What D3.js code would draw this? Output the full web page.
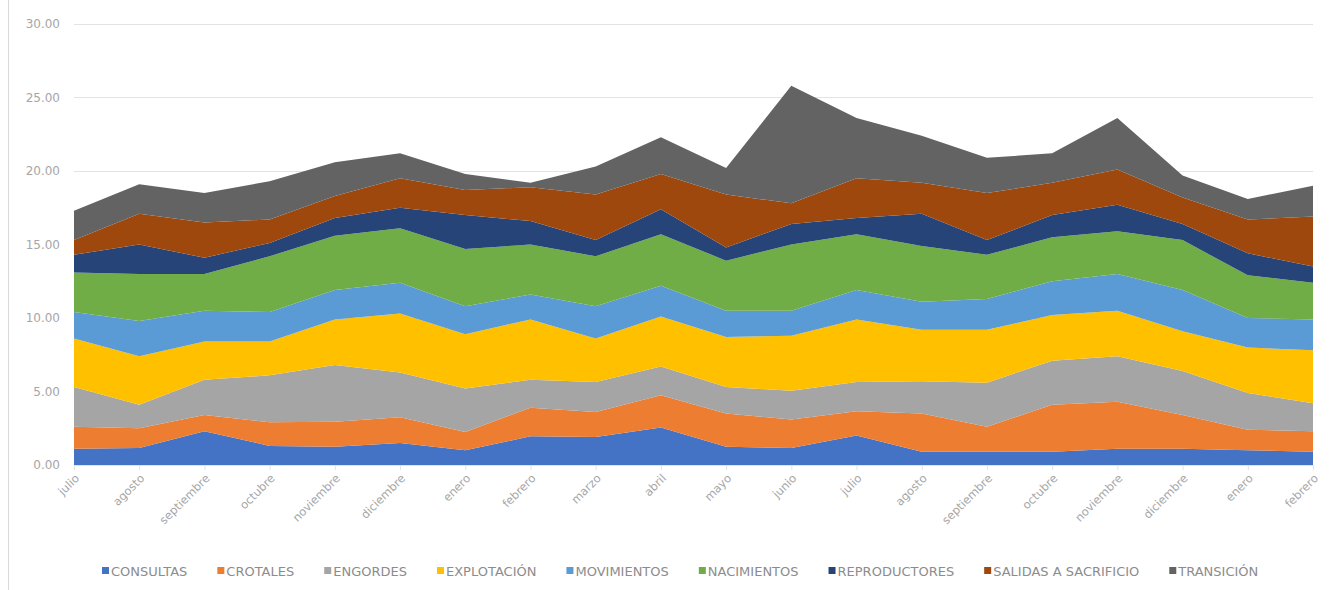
<!DOCTYPE html>
<html>
<head>
<meta charset="utf-8">
<script src="https://cdn.jsdelivr.net/npm/d3@7"></script>
<style>
  body { margin: 0; background: #fff; }
  svg text { font-family: 'DejaVu Sans', sans-serif; }
</style>
</head>
<body>
<div id="chart"></div>
<script>
// Month labels (x axis)
var months = ['julio', 'agosto', 'septiembre', 'octubre', 'noviembre', 'diciembre',
  'enero', 'febrero', 'marzo', 'abril', 'mayo', 'junio', 'julio', 'agosto',
  'septiembre', 'octubre', 'noviembre', 'diciembre', 'enero', 'febrero'];

// Series names, bottom to top
var seriesNames = ['CONSULTAS', 'CROTALES', 'ENGORDES', 'EXPLOTACIÓN', 'MOVIMIENTOS',
  'NACIMIENTOS', 'REPRODUCTORES', 'SALIDAS A SACRIFICIO', 'TRANSICIÓN'];

// Series values
var consultas     = [1.10, 1.15, 2.30, 1.30, 1.25, 1.50, 1.00, 1.95, 1.90, 2.55, 1.25, 1.15, 2.00, 0.90, 0.90, 0.90, 1.10, 1.10, 1.00, 0.90];
var crotales      = [1.50, 1.35, 1.10, 1.60, 1.70, 1.75, 1.25, 1.95, 1.70, 2.20, 2.25, 1.95, 1.65, 2.60, 1.70, 3.20, 3.20, 2.30, 1.40, 1.40];
var engordes      = [2.70, 1.60, 2.40, 3.20, 3.85, 3.05, 2.95, 1.90, 2.05, 1.95, 1.80, 1.95, 2.00, 2.20, 3.00, 3.00, 3.10, 3.00, 2.50, 1.90];
var explotacion   = [3.30, 3.30, 2.60, 2.30, 3.10, 4.00, 3.70, 4.10, 2.95, 3.40, 3.40, 3.75, 4.25, 3.50, 3.60, 3.10, 3.10, 2.70, 3.10, 3.60];
var movimientos   = [1.80, 2.40, 2.10, 2.00, 2.00, 2.10, 1.90, 1.70, 2.20, 2.10, 1.80, 1.70, 2.00, 1.90, 2.10, 2.30, 2.50, 2.80, 2.00, 2.10];
var nacimientos   = [2.70, 3.20, 2.50, 3.80, 3.70, 3.70, 3.90, 3.40, 3.40, 3.50, 3.40, 4.50, 3.80, 3.80, 3.00, 3.00, 2.90, 3.40, 2.90, 2.50];
var reproductores = [1.20, 2.00, 1.10, 0.90, 1.20, 1.40, 2.30, 1.60, 1.10, 1.70, 0.90, 1.40, 1.10, 2.20, 1.00, 1.50, 1.80, 1.10, 1.50, 1.10];
var salidas       = [1.00, 2.10, 2.40, 1.60, 1.50, 2.00, 1.70, 2.30, 3.10, 2.40, 3.60, 1.40, 2.70, 2.10, 3.20, 2.20, 2.40, 1.80, 2.30, 3.40];
var transicion    = [2.00, 2.00, 2.00, 2.60, 2.30, 1.70, 1.10, 0.30, 1.90, 2.50, 1.80, 8.00, 4.10, 3.20, 2.40, 2.00, 3.50, 1.50, 1.40, 2.10];

// Y axis ticks
var yTicks = [0, 5, 10, 15, 20, 25, 30];

// Colour constants (Office palette)
var COLORS = ['#4472C4', '#ED7D31', '#A5A5A5', '#FFC000', '#5B9BD5',
  '#70AD47', '#264478', '#9E480E', '#636363'];

var seriesValues = [consultas, crotales, engordes, explotacion, movimientos,
  nacimientos, reproductores, salidas, transicion];

var WIDTH = 1334,
    HEIGHT = 590,
    PLOT_LEFT = 74,
    PLOT_RIGHT = 1313,
    PLOT_TOP = 24,
    PLOT_BOTTOM = 465;

// Build rows for d3.stack
var rows = months.map(function(m, i) {
  var row = { idx: i };
  seriesNames.forEach(function(name, s) { row[name] = seriesValues[s][i]; });
  return row;
});

var stacked = d3.stack().keys(seriesNames)(rows);

var x = d3.scalePoint()
  .domain(d3.range(months.length))
  .range([PLOT_LEFT, PLOT_RIGHT]);

var y = d3.scaleLinear()
  .domain([0, 30])
  .range([PLOT_BOTTOM, PLOT_TOP]);

var svg = d3.select('#chart')
  .append('svg')
  .attr('width', WIDTH)
  .attr('height', HEIGHT);

// Chart frame line on the left
svg.append('line')
  .attr('x1', 8.5).attr('x2', 8.5)
  .attr('y1', 0).attr('y2', HEIGHT)
  .attr('stroke', '#d9d9d9');

// Gridlines
svg.append('g')
  .selectAll('line')
  .data(yTicks)
  .join('line')
  .attr('x1', PLOT_LEFT).attr('x2', PLOT_RIGHT)
  .attr('y1', function(d) { return Math.round(y(d)) + 0.5; })
  .attr('y2', function(d) { return Math.round(y(d)) + 0.5; })
  .attr('stroke', '#e3e3e3');

// Areas
var area = d3.area()
  .x(function(d) { return x(d.data.idx); })
  .y0(function(d) { return y(d[0]); })
  .y1(function(d) { return y(d[1]); });

svg.append('g')
  .selectAll('path')
  .data(stacked)
  .join('path')
  .attr('fill', function(d, i) { return COLORS[i]; })
  .attr('d', area);

// Y axis labels
svg.append('g')
  .selectAll('text')
  .data(yTicks)
  .join('text')
  .attr('x', 60)
  .attr('y', function(d) { return y(d); })
  .attr('dy', '0.35em')
  .attr('text-anchor', 'end')
  .attr('font-size', '12px')
  .attr('fill', '#a6a6a6')
  .text(function(d) { return d.toFixed(2); });

// X axis ticks and labels
var xAxis = svg.append('g');
xAxis.selectAll('line')
  .data(d3.range(months.length))
  .join('line')
  .attr('x1', function(d) { return x(d) + 0.5; })
  .attr('x2', function(d) { return x(d) + 0.5; })
  .attr('y1', PLOT_BOTTOM)
  .attr('y2', PLOT_BOTTOM + 5)
  .attr('stroke', '#e3e3e3');

xAxis.selectAll('text')
  .data(months)
  .join('text')
  .attr('transform', function(d, i) {
    return 'translate(' + (x(i) + 6) + ',' + (PLOT_BOTTOM + 14) + ') rotate(-45)';
  })
  .attr('text-anchor', 'end')
  .attr('font-size', '11.5px')
  .attr('fill', '#a6a6a6')
  .text(function(d) { return d; });

// Legend
var legend = svg.append('g').attr('transform', 'translate(0,571)');
var LEGEND_START = 102, LEGEND_GAP = 30;
var items = legend.selectAll('g')
  .data(seriesNames)
  .join('g');

items.append('rect')
  .attr('width', 7).attr('height', 7)
  .attr('y', -4)
  .attr('fill', function(d, i) { return COLORS[i]; });

items.append('text')
  .attr('x', 9)
  .attr('dy', '0.35em')
  .attr('font-size', '13px')
  .attr('fill', '#8c8c8c')
  .text(function(d) { return d; });

var cursor = LEGEND_START;
items.each(function() {
  var g = d3.select(this);
  g.attr('transform', 'translate(' + cursor + ',0)');
  cursor += 9 + g.select('text').node().getComputedTextLength() + LEGEND_GAP;
});
</script>
</body>
</html>
